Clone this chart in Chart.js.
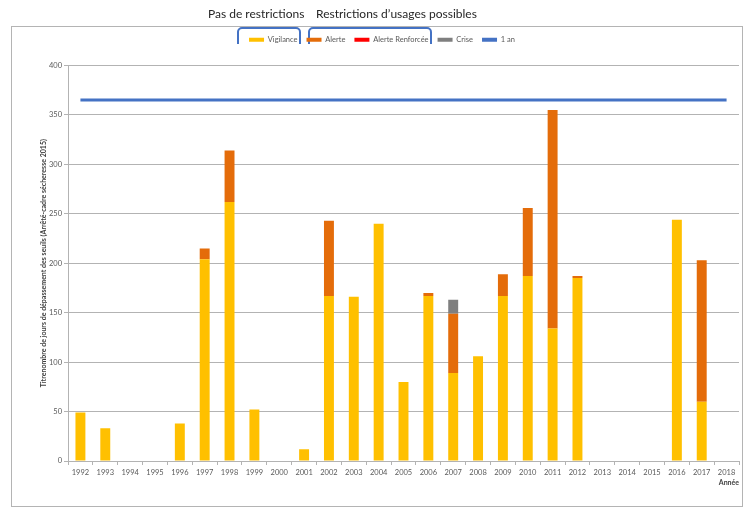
<!DOCTYPE html>
<html>
<head>
<meta charset="utf-8">
<script src="https://cdn.jsdelivr.net/npm/chart.js@4"></script>
<style>
  html, body { margin: 0; padding: 0; background: #fff; }
</style>
</head>
<body>
<canvas id="chart" width="744" height="509"></canvas>
<script>
const years = ['1992', '1993', '1994', '1995', '1996', '1997', '1998', '1999', '2000', '2001',
    '2002', '2003', '2004', '2005', '2006', '2007', '2008', '2009', '2010', '2011',
    '2012', '2013', '2014', '2015', '2016', '2017', '2018'];

const vigilance = [49, 33, 0, 0, 38, 204, 262, 52, 0, 12, 167, 166, 240, 80, 167, 89, 106, 167, 187, 134, 185, 0, 0, 0, 244, 60, 0];
const alerte = [0, 0, 0, 0, 0, 11, 52, 0, 0, 0, 76, 0, 0, 0, 3, 60, 0, 22, 69, 221, 2, 0, 0, 0, 0, 143, 0];
const alerteRenforcee = [0, 0, 0, 0, 0, 0, 0, 0, 0, 0, 0, 0, 0, 0, 0, 0, 0, 0, 0, 0, 0, 0, 0, 0, 0, 0, 0];
const crise = [0, 0, 0, 0, 0, 0, 0, 0, 0, 0, 0, 0, 0, 0, 0, 14, 0, 0, 0, 0, 0, 0, 0, 0, 0, 0, 0];
const unAn = [365, 365, 365, 365, 365, 365, 365, 365, 365, 365, 365, 365, 365, 365, 365, 365, 365, 365, 365, 365, 365, 365, 365, 365, 365, 365, 365];

const yTicks = [0, 50, 100, 150, 200, 250, 300, 350, 400];
const headers = ['Pas de restrictions', 'Restrictions d\u2019usages possibles'];
const yTitle = 'Titrenombre de jours de dépassement des seuils (Arrêté-cadre sécheresse 2015)';

const FONT = 'Lato, "Liberation Sans", sans-serif';

// outer frame, the two headings, their blue brackets and the y title
const frame = {
    id: 'frame',
    beforeDraw(chart) {
        const ctx = chart.ctx;
        ctx.save();
        ctx.fillStyle = '#fff';
        ctx.fillRect(0, 0, chart.width, chart.height);
        ctx.strokeStyle = '#b4b4b4';
        ctx.lineWidth = 1;
        ctx.strokeRect(11.5, 26.5, 731, 480);

        ctx.fillStyle = '#262626';
        ctx.font = '12px ' + FONT;
        ctx.textBaseline = 'middle';
        ctx.fillText(headers[0], 208, 14);
        ctx.fillText(headers[1], 316, 14);

        ctx.strokeStyle = '#4472c4';
        ctx.lineWidth = 2;
        const bracket = (x1, x2) => {
            ctx.beginPath();
            ctx.moveTo(x1, 44);
            ctx.lineTo(x1, 32);
            ctx.arcTo(x1, 28, x1 + 4, 28, 4);
            ctx.lineTo(x2 - 4, 28);
            ctx.arcTo(x2, 28, x2, 32, 4);
            ctx.lineTo(x2, 44);
            ctx.stroke();
        };
        bracket(238, 300);
        bracket(309, 431);

        // rotated y-axis title, centred on the plot height
        const area = chart.chartArea;
        ctx.translate(44, (area.top + area.bottom) / 2);
        ctx.rotate(-Math.PI / 2);
        ctx.fillStyle = '#404040';
        ctx.font = 'bold 7px ' + FONT;
        ctx.textAlign = 'center';
        ctx.fillText(yTitle, 0, 0);
        ctx.restore();
    }
};

// extra room between legend and plot
const legendGap = {
    id: 'legendGap',
    beforeInit(chart) {
        const fit = chart.legend.fit;
        chart.legend.fit = function () {
            fit.bind(chart.legend)();
            this.height += 12;
        };
    }
};

new Chart(document.getElementById('chart'), {
    type: 'bar',
    data: {
        labels: years,
        datasets: [
            { label: 'Vigilance', data: vigilance, backgroundColor: '#ffc000', stack: 'bars', order: 2 },
            { label: 'Alerte', data: alerte, backgroundColor: '#e46c0a', stack: 'bars', order: 2 },
            { label: 'Alerte Renforcée', data: alerteRenforcee, backgroundColor: '#ff0000', stack: 'bars', order: 2 },
            { label: 'Crise', data: crise, backgroundColor: '#7f7f7f', stack: 'bars', order: 2 },
            {
                type: 'line', label: '1 an', data: unAn, stack: 'line', order: 1,
                borderColor: '#4472c4', backgroundColor: '#4472c4', borderWidth: 3,
                pointRadius: 0, pointHoverRadius: 0, fill: false
            }
        ]
    },
    options: {
        responsive: false,
        animation: false,
        layout: { padding: { left: 25, right: 5, top: 27, bottom: 20 } },
        datasets: { bar: { barPercentage: 0.4, categoryPercentage: 1 } },
        plugins: {
            tooltip: { enabled: false },
            legend: {
                position: 'top',
                labels: {
                    boxWidth: 15,
                    boxHeight: 4,
                    padding: 9,
                    color: '#595959',
                    font: { size: 7.5, family: FONT },
                    generateLabels(chart) {
                        return chart.data.datasets.map((ds, i) => ({
                            text: ds.label,
                            fillStyle: ds.backgroundColor,
                            strokeStyle: ds.backgroundColor,
                            lineWidth: 0,
                            fontColor: '#595959',
                            hidden: false,
                            datasetIndex: i
                        }));
                    }
                }
            }
        },
        scales: {
            x: {
                stacked: true,
                grid: { drawOnChartArea: false, drawTicks: true, tickLength: 4, offset: true, color: '#b3b3b3' },
                border: { color: '#b3b3b3' },
                ticks: { color: '#595959', font: { size: 7.5, family: FONT }, padding: 3, maxRotation: 0, autoSkip: false },
                title: {
                    display: true, text: 'Année', align: 'end', color: '#404040',
                    font: { size: 7, weight: 'bold', family: FONT }, padding: { top: 0, bottom: 2 }
                },
                afterFit(scale) { scale.height = 28; }
            },
            y: {
                stacked: true,
                min: yTicks[0],
                max: yTicks[yTicks.length - 1],
                afterBuildTicks(scale) { scale.ticks = yTicks.map(v => ({ value: v })); },
                grid: { color: '#b3b3b3', tickLength: 4 },
                border: { color: '#b3b3b3' },
                ticks: { color: '#595959', font: { size: 7.5, family: FONT }, padding: 2 },
                afterFit(scale) { scale.width = 43; }
            }
        }
    },
    plugins: [frame, legendGap]
});
</script>
</body>
</html>
